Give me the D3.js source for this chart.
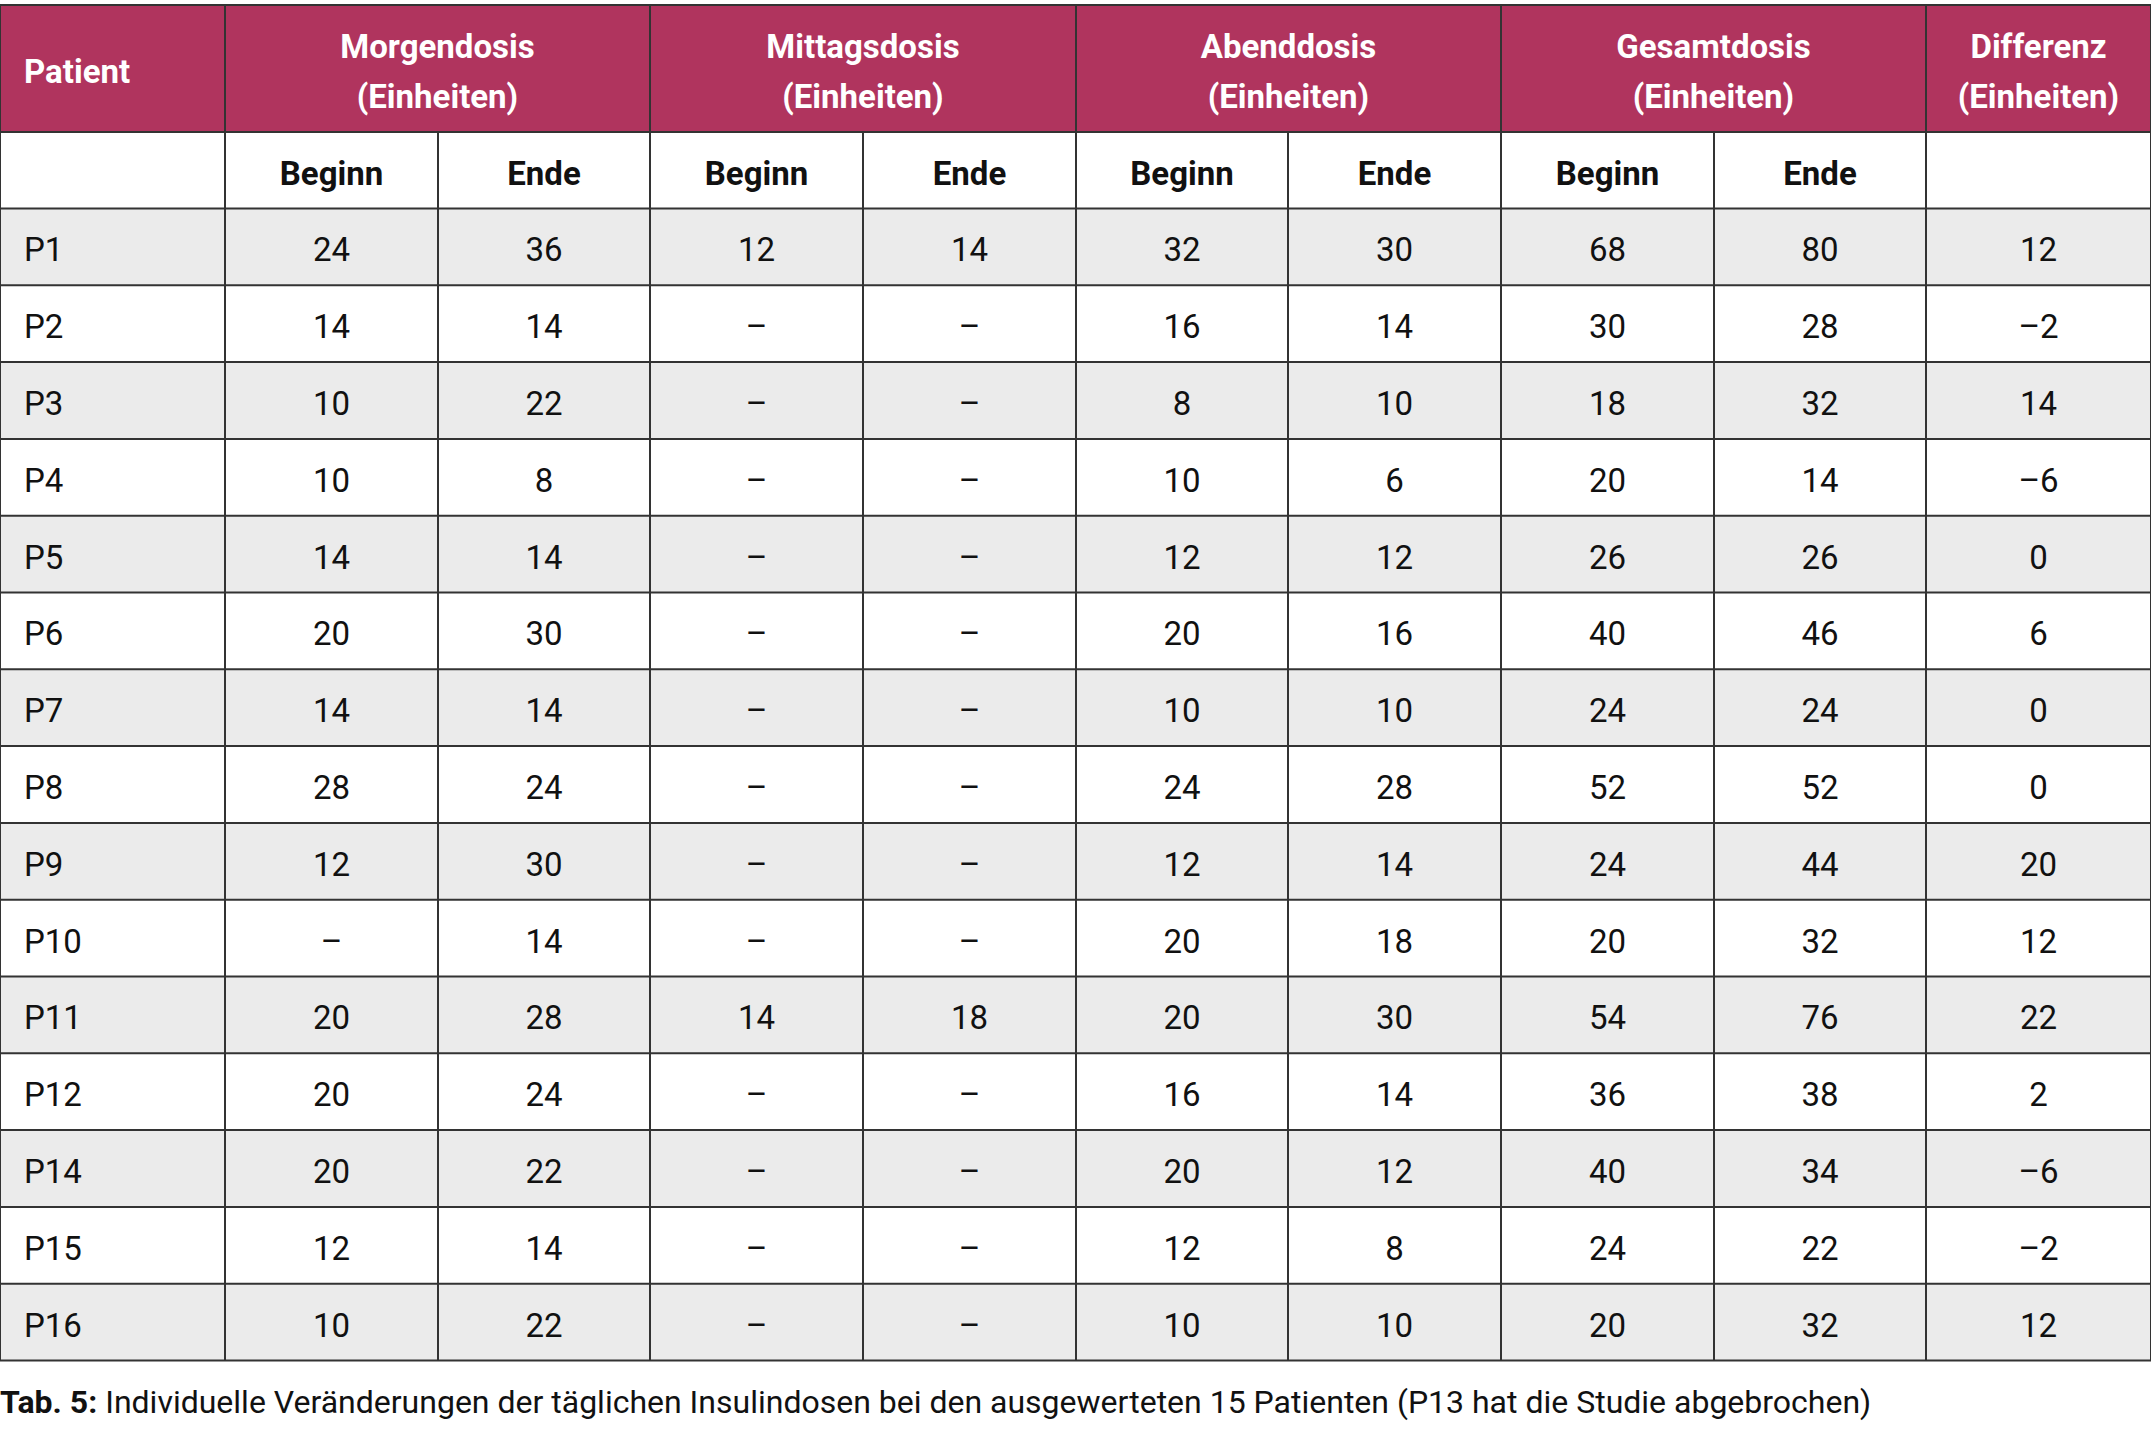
<!DOCTYPE html>
<html><head><meta charset="utf-8">
<script src="https://cdn.jsdelivr.net/npm/d3@7"></script>
<style>body{margin:0;background:#fff}</style>
</head><body>
<script>
var groups = ["Morgendosis", "Mittagsdosis", "Abenddosis", "Gesamtdosis"];
var subHeads = ["Beginn", "Ende"];
var patients = ["P1","P2","P3","P4","P5","P6","P7","P8","P9","P10","P11","P12","P14","P15","P16"];
var morgenBeginn = [24,14,10,10,14,20,14,28,12,null,20,20,20,12,10];
var morgenEnde   = [36,14,22,8,14,30,14,24,30,14,28,24,22,14,22];
var mittagBeginn = [12,null,null,null,null,null,null,null,null,null,14,null,null,null,null];
var mittagEnde   = [14,null,null,null,null,null,null,null,null,null,18,null,null,null,null];
var abendBeginn  = [32,16,8,10,12,20,10,24,12,20,20,16,20,12,10];
var abendEnde    = [30,14,10,6,12,16,10,28,14,18,30,14,12,8,10];
var gesamtBeginn = [68,30,18,20,26,40,24,52,24,20,54,36,40,24,20];
var gesamtEnde   = [80,28,32,14,26,46,24,52,44,32,76,38,34,22,32];
var differenz    = [12,-2,14,-6,0,6,0,0,20,12,22,2,-6,-2,12];
var caption = "Individuelle Veränderungen der täglichen Insulindosen bei den ausgewerteten 15 Patienten (P13 hat die Studie abgebrochen)";

var W = 2151, H = 1430;
var FONT = '"Liberation Sans Narrow", "Roboto", sans-serif';
var colEdges = [0,225,438,650,863,1076,1288,1501,1714,1926,2151];
var top0 = 5, headH = 127, subH = 76.5, rowH = 76.8;
var bodyTop = top0 + headH + subH;
var dy = 3; // nudge text down a little
var fmt = v => v == null ? "–" : (v < 0 ? "–" + Math.abs(v) : String(v));
var cols = [morgenBeginn, morgenEnde, mittagBeginn, mittagEnde, abendBeginn, abendEnde, gesamtBeginn, gesamtEnde, differenz];

var y = d3.scaleBand().domain(patients).range([bodyTop, bodyTop + rowH * patients.length]);
var svg = d3.select("body").append("svg").attr("width", W).attr("height", H)
  .style("font-family", FONT);

// header
svg.append("rect").attr("x",0).attr("y",top0).attr("width",W).attr("height",headH).attr("fill","#b0345e");
// stripes
svg.selectAll("rect.row").data(patients).enter().append("rect")
  .attr("x",0).attr("y",d=>y(d)).attr("width",W).attr("height",y.bandwidth())
  .attr("fill",(d,i)=> i%2==0 ? "#ebebeb" : "#fff");

var hdr = [{t:"Patient", c:0, span:1, left:true}];
groups.forEach((g,i)=>hdr.push({t:[g,"(Einheiten)"], c:1+2*i, span:2}));
hdr.push({t:["Differenz","(Einheiten)"], c:9, span:1});
hdr.forEach(h=>{
  var x0 = colEdges[h.c], x1 = colEdges[h.c+h.span];
  var tx = svg.append("text").attr("fill","#fff").attr("font-weight","bold").attr("font-size",33)
    .attr("text-anchor", h.left ? "start" : "middle")
    .attr("x", h.left ? 24 : (x0+x1)/2);
  if (h.left) tx.attr("y", top0+headH/2+dy).attr("dominant-baseline","central").text(h.t);
  else h.t.forEach((s,k)=>tx.append("tspan").attr("x",(x0+x1)/2).attr("y", top0+headH/2+dy + (k? 25:-25)).attr("dominant-baseline","central").text(s));
});
for (var i=0;i<8;i++){
  svg.append("text").attr("x",(colEdges[i+1]+colEdges[i+2])/2).attr("y",top0+headH+subH/2+dy)
    .attr("text-anchor","middle").attr("dominant-baseline","central")
    .attr("font-weight","bold").attr("font-size",33).attr("fill","#111").text(subHeads[i%2]);
}
// body
patients.forEach((p,r)=>{
  var cy = y(p)+y.bandwidth()/2+dy;
  svg.append("text").attr("x",24).attr("y",cy).attr("dominant-baseline","central").attr("font-size",33).attr("fill","#111").text(p);
  cols.forEach((arr,c)=>{
    svg.append("text").attr("x",(colEdges[c+1]+colEdges[c+2])/2).attr("y",cy)
      .attr("text-anchor","middle").attr("dominant-baseline","central").attr("font-size",33).attr("fill","#111").text(fmt(arr[r]));
  });
});
// grid lines
var bottom = bodyTop + rowH*patients.length;
var hl = [top0, top0+headH, top0+headH+subH].concat(patients.map(p=>y(p)+y.bandwidth()));
svg.selectAll("line.h").data(hl).enter().append("line")
  .attr("x1",0).attr("x2",W).attr("y1",d=>d).attr("y2",d=>d).attr("stroke","#333").attr("stroke-width",2);
colEdges.forEach((x,i)=>{
  var yStart = (i%2==0 && i>1 && i<10) ? top0+headH : top0;
  if (i==0 || i==10) yStart = top0;
  svg.append("line").attr("x1",x).attr("x2",x).attr("y1",yStart).attr("y2",bottom).attr("stroke","#333").attr("stroke-width",2);
});
// caption
var cap = svg.append("text").attr("x",0).attr("y",1413).attr("font-size",32).attr("fill","#111");
cap.append("tspan").attr("font-weight","bold").text("Tab. 5: ");
cap.append("tspan").text(caption);
</script>
</body></html>
